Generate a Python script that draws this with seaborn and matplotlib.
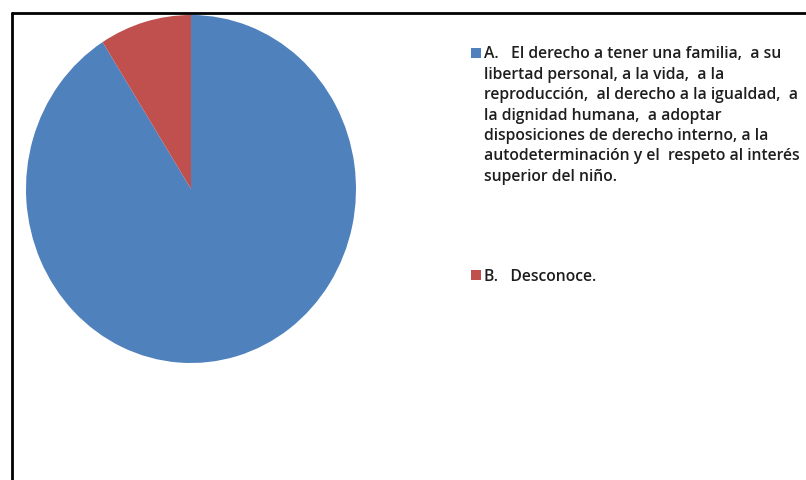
import matplotlib.pyplot as plt
import seaborn as sns
from matplotlib.patches import Rectangle
from matplotlib.lines import Line2D

# legend text, wrapped as in the reference
label_lines = [
    [
        "A.   El derecho a tener una familia,  a su",
        "libertad personal, a la vida,  a la",
        "reproducción,  al derecho a la igualdad,  a",
        "la dignidad humana,  a adoptar",
        "disposiciones de derecho interno, a la",
        "autodeterminación y el  respeto al interés",
        "superior del niño.",
    ],
    ["B.   Desconoce."],
]
values = [91, 9]
colors = ["#4F81BD", "#C0504D"]

sns.set_theme(style="white")
plt.rcParams["font.family"] = ["Open Sans", "DejaVu Sans"]

W, H = 806, 481
fig = plt.figure(figsize=(W / 100, H / 100), dpi=100)
fig.patch.set_facecolor("white")

# pie area in pixels: x 26-356, y 16-364
ax = fig.add_axes([26 / W, 1 - 364 / H, 330 / W, 348 / H])
ax.pie(values, colors=colors, startangle=90, counterclock=False,
       wedgeprops=dict(linewidth=0))
ax.set_aspect("auto")
ax.set_xlim(-1, 1)
ax.set_ylim(-1, 1)
ax.axis("off")

# frame lines (left and top of the chart box)
fig.add_artist(Line2D([11.5 / W, 11.5 / W], [0, 1 - 14 / H], color="black",
                      lw=2, transform=fig.transFigure))
fig.add_artist(Line2D([11.5 / W, 1], [1 - 14 / H, 1 - 14 / H], color="black",
                      lw=2, transform=fig.transFigure))

# legend drawn by hand so the key square sits on the first line
first_baselines = [58.5, 280.7]
line_step = 20.4
for lines, color, y0 in zip(label_lines, colors, first_baselines):
    fig.add_artist(Rectangle((471 / W, 1 - y0 / H), 10 / W, 10 / H,
                             facecolor=color, edgecolor="none",
                             transform=fig.transFigure))
    for i, line in enumerate(lines):
        fig.text(484 / W, 1 - (y0 + i * line_step) / H, line,
                 fontsize=11.3, fontweight="semibold", color="#1e1e1e",
                 va="baseline", ha="left")

fig.savefig("out.png", dpi=100)
